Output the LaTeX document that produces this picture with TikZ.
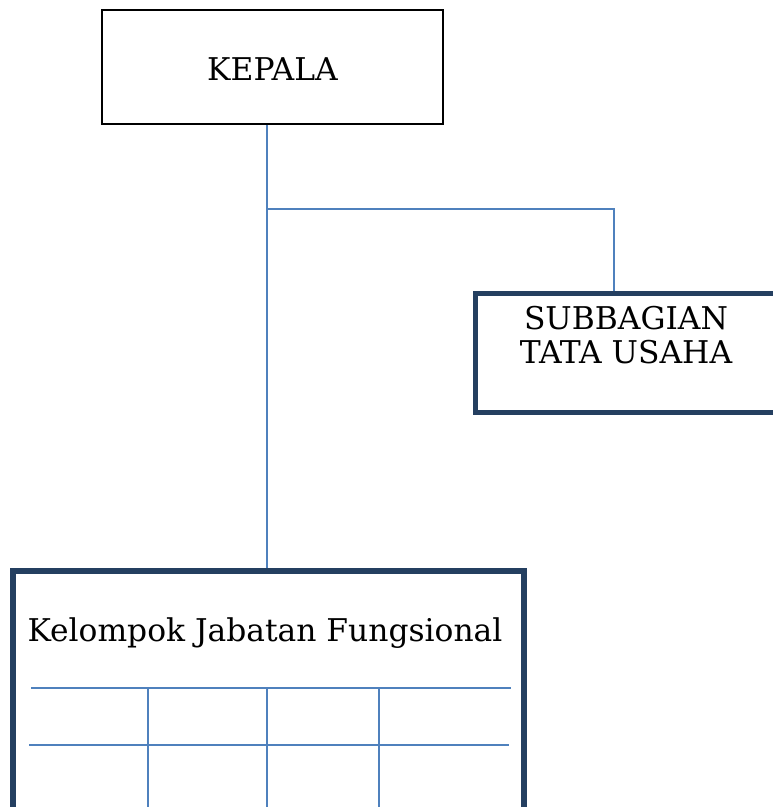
\documentclass[tikz,border=0pt]{standalone}
\usepackage{fontspec}
\setmainfont{DejaVu Serif}
\definecolor{navy}{HTML}{243F60}
\definecolor{conn}{HTML}{4F81BD}
\begin{document}
\begin{tikzpicture}[x=0.75pt,y=-0.75pt,
  thinbox/.style={draw=black,line width=1.2pt,inner sep=0pt},
  thickbox/.style={draw=navy,line width=4.2pt,inner sep=0pt},
  lbl/.style={font=\fontsize{23.5}{25.5}\selectfont,align=center,inner sep=0pt},
  link/.style={draw=conn,line width=1.1pt}]
\useasboundingbox (0,0) rectangle (773,807);
\clip (0,0) rectangle (773,807);
\node[thinbox,minimum width=341*0.75pt,minimum height=114*0.75pt] (kepala) at (272.5,67) {};
\node[lbl] (kepalat) at (272.5,69) {KEPALA};
\node[thickbox,minimum width=305*0.75pt,minimum height=119*0.75pt] (sub) at (628,353) {};
\node[lbl] (subt) at (626,335) {SUBBAGIAN\\TATA USAHA};
\node[thickbox,minimum width=511*0.75pt,minimum height=248*0.75pt] (kel) at (268.5,695) {};
\node[lbl] (kelt) at (265,633) {Kelompok Jabatan Fungsional};
\coordinate (j) at (267,209);
\coordinate (s) at (614,209);
\draw[link] (kepala.south -| j) -- (kel.north -| j);
\draw[link] (j) -- (s) -- (sub.north -| s);
\coordinate (h1a) at (31,688); \coordinate (h1b) at (511,688);
\coordinate (h2a) at (29,745); \coordinate (h2b) at (509,745);
\draw[link] (h1a) -- (h1b);
\draw[link] (h2a) -- (h2b);
\foreach \x in {148,267,379}{
  \draw[link] (\x,688) -- (\x,807);
}
\end{tikzpicture}
\end{document}
